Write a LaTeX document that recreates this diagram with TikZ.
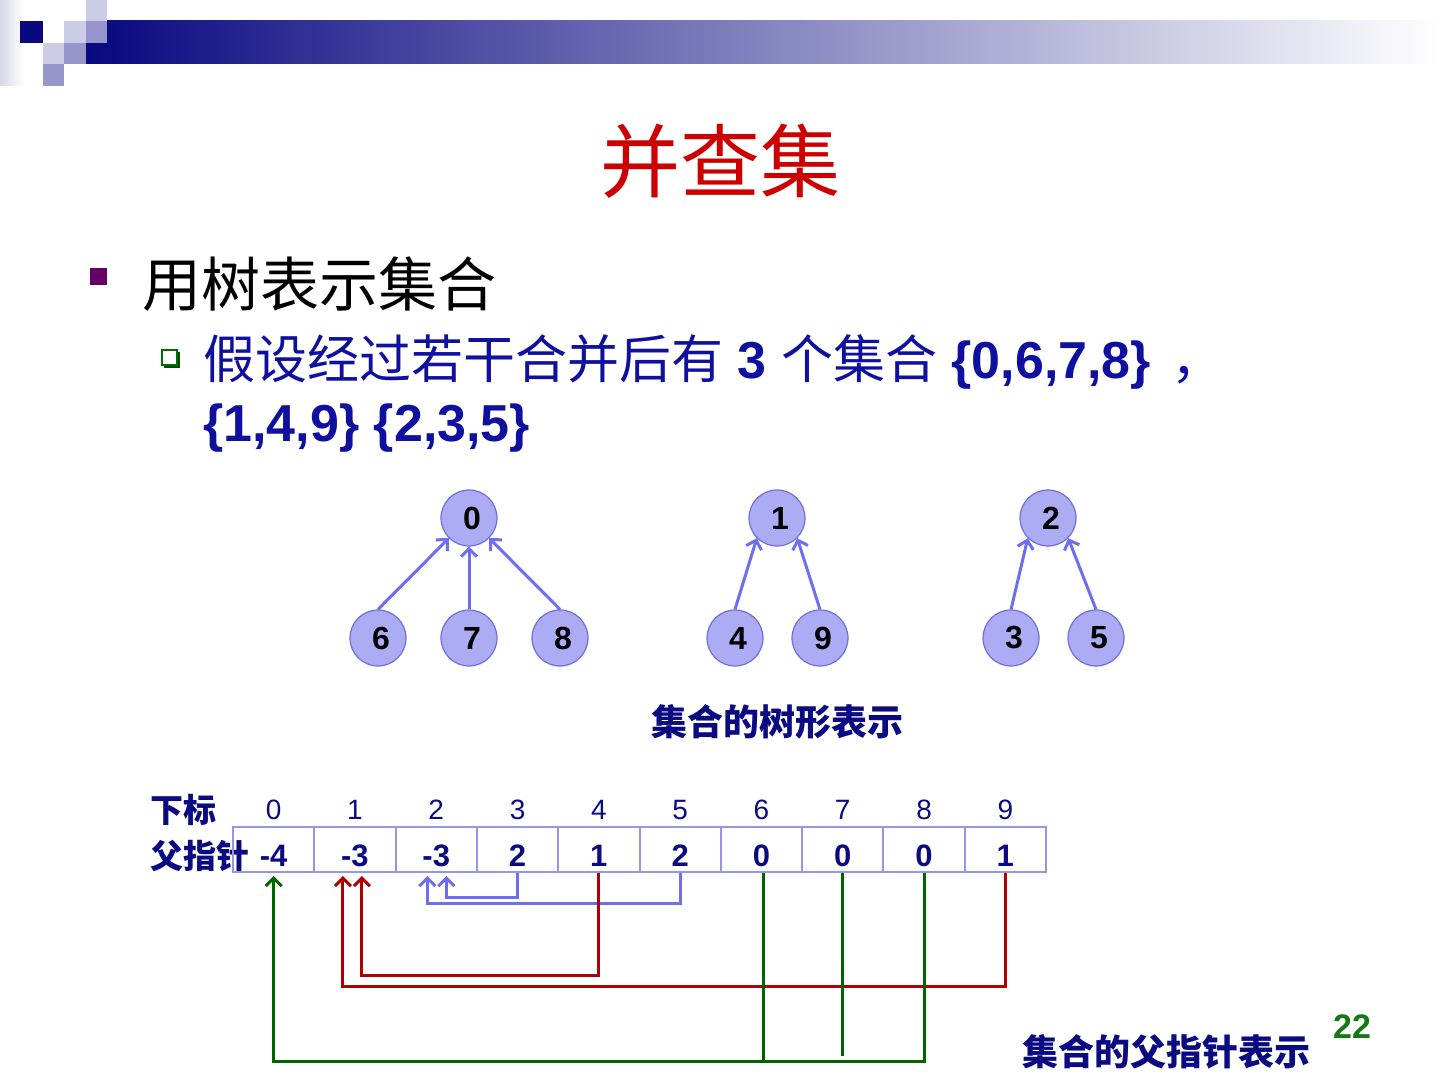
\documentclass[tikz,border=0pt]{standalone}
\usepackage{fontspec}
\setmainfont{Liberation Sans}
\newfontfamily\cjk{Noto Sans CJK SC}
\usetikzlibrary{arrows.meta,calc}
\definecolor{hdnavy}{RGB}{8,8,128}
\definecolor{sqlight}{RGB}{204,204,230}
\definecolor{sqmid}{RGB}{150,150,204}
\definecolor{hdfade}{RGB}{215,215,232}
\definecolor{titlered}{RGB}{204,0,0}
\definecolor{bulpurple}{RGB}{102,0,102}
\definecolor{bulgreen}{RGB}{0,110,0}
\definecolor{subblue}{RGB}{16,16,160}
\definecolor{tabnavy}{RGB}{10,10,130}
\definecolor{arrblue}{RGB}{110,110,240}
\definecolor{nodefill}{RGB}{172,172,245}
\definecolor{nodeborder}{RGB}{110,110,220}
\definecolor{cellborder}{RGB}{150,150,230}
\definecolor{lgreen}{RGB}{0,100,0}
\definecolor{lred}{RGB}{176,0,0}
\definecolor{pggreen}{RGB}{20,120,20}
\tikzset{
  tn/.style={circle, fill=nodefill, draw=nodeborder, line width=0.6pt, minimum size=28pt, inner sep=0pt, font=\bfseries\fontsize{16}{19}\selectfont},
  tarr/.style={draw=arrblue, line width=1.5pt, -{Straight Barb[length=4pt,width=8pt]}},
  cell/.style={rectangle, draw=cellborder, line width=1pt, minimum width=40.65pt, minimum height=22.5pt, inner sep=0pt},
  val/.style={font=\bfseries\fontsize{15.5}{18}\selectfont, text=tabnavy, inner sep=0pt},
  idx/.style={font=\fontsize{14}{17}\selectfont, text=tabnavy, inner sep=0pt},
  rowlab/.style={font=\cjk\bfseries\fontsize{16.5}{19}\selectfont, text=tabnavy, anchor=west, inner sep=0pt},
  link/.style={line width=1.5pt, -{Straight Barb[length=4pt,width=8pt]}, shorten >=1.5pt},
  plain/.style={line width=1.5pt}
}
\begin{document}
\begin{tikzpicture}[x=0.5pt,y=-0.5pt]
\useasboundingbox (0,0) rectangle (1440,1080);
\fill[white] (0,0) rectangle (1440,1080);
% header
\shade[left color=hdfade, right color=white] (0,0) rectangle (24,86);
\shade[left color=hdnavy, right color=white] (86,21) rectangle (1440,64);
\fill[hdnavy] (20,21) rectangle (43,43);
\fill[sqlight] (86,0) rectangle (107,21);
\fill[sqlight] (64,21) rectangle (86,43);
\fill[sqmid] (86,21) rectangle (107,43);
\fill[sqlight] (43,43) rectangle (64,64);
\fill[sqmid] (64,43) rectangle (86,64);
\fill[sqmid] (43,64) rectangle (64,86);
% title
\node[text=titlered, font=\cjk\fontsize{40}{48}\selectfont] (title) at (720,161) {并查集};
% bullets
\fill[bulpurple] (90,268) rectangle (107,285);
\node[anchor=west, inner sep=0pt, font=\cjk\fontsize{29.5}{35}\selectfont] (b1) at (142,284) {用树表示集合};
\fill[bulgreen!70!black] (164,352) rectangle (180,368);
\filldraw[fill=white, draw=bulgreen, line width=0.8pt] (162,350) rectangle (177,365);
\node[anchor=west, inner sep=0pt, text=subblue, font=\fontsize{26}{31}\selectfont] (b2) at (203,362) {{\cjk 假设经过若干合并后有} \textbf{3} {\cjk 个集合} \textbf{\{0,6,7,8\}}\hspace{10pt}{\cjk ，}};
\node[anchor=west, inner sep=0pt, text=subblue, font=\bfseries\fontsize{26}{31}\selectfont] (b3) at (203,428) {\{1,4,9\} \{2,3,5\}};
% trees
\node[tn] (n0) at (469,518) {\hspace*{3pt}0};
\node[tn] (n6) at (378,638) {\hspace*{3pt}6};
\node[tn] (n7) at (469,638) {\hspace*{3pt}7};
\node[tn] (n8) at (560,638) {\hspace*{3pt}8};
\node[tn] (n1) at (777,518) {\hspace*{3pt}1};
\node[tn] (n4) at (735,638) {\hspace*{3pt}4};
\node[tn] (n9) at (820,638) {\hspace*{3pt}9};
\node[tn] (n2) at (1048,518) {\hspace*{3pt}2};
\node[tn] (n3) at (1011,638) {\hspace*{3pt}3};
\node[tn] (n5) at (1096,638) {\hspace*{3pt}5};
\foreach \c/\p in {6/0.south west,7/0.south,8/0.south east,4/1.south west,9/1.south east,3/2.south west,5/2.south east}
  \draw[tarr] (n\c.north) -- (n\p);
\node[text=tabnavy, font=\cjk\bfseries\fontsize{18}{22}\selectfont] (cap1) at (777,722) {集合的树形表示};
% table
\node[rowlab] (lab1) at (150,810) {下标};
\node[rowlab] (lab2) at (150,856) {父指针};
\foreach \i/\v in {0/-4,1/-3,2/-3,3/2,4/1,5/2,6/0,7/0,8/0,9/1} {
  \node[cell] (c\i) at ({233+81.3*(\i+0.5)},849.5) {};
  \node[val] (v\i) at ($(c\i)+(0,6)$) {\v};
  \node[idx] (x\i) at ({233+81.3*(\i+0.5)},810) {\i};
}
% connectors
\draw[link, arrblue] (c3.south) -- ++(0,24) -| ([xshift=5pt]c2.south);
\draw[link, arrblue] (c5.south) -- ++(0,30) -| ([xshift=-4.5pt]c2.south);
\draw[link, lred] (c4.south) -- ++(0,102) -| ([xshift=3.5pt]c1.south);
\draw[link, lred] (c9.south) -- ++(0,113) -| ([xshift=-6pt]c1.south);
\draw[link, lgreen] (c8.south) -- ++(0,188) -| (c0.south);
\draw[plain, lgreen] ([xshift=1pt]c6.south) -- ++(0,188);
\draw[plain, lgreen] (c7.south) -- ++(0,183);
% captions
\node[text=tabnavy, font=\cjk\bfseries\fontsize{18}{22}\selectfont] (cap2) at (1166,1052) {集合的父指针表示};
\node[text=pggreen, font=\bfseries\fontsize{17}{20}\selectfont] (pg) at (1352,1027) {22};
\end{tikzpicture}
\end{document}
